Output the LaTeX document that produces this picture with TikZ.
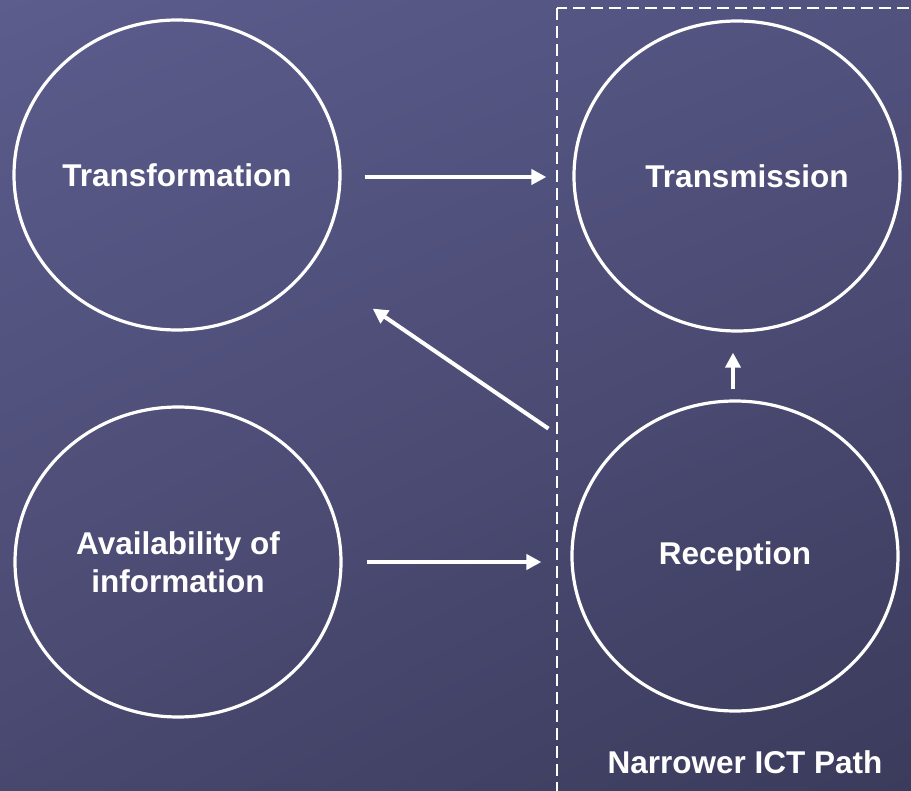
\documentclass[tikz,border=0pt]{standalone}
\usepackage{fontspec}
\setmainfont{Liberation Sans}
\usepackage{xcolor}
\usetikzlibrary{positioning, arrows.meta, shapes.geometric, shadings}
\definecolor{slideUL}{HTML}{5C5C8D}
\definecolor{slideUR}{HTML}{52527F}
\definecolor{slideLL}{HTML}{48486F}
\definecolor{slideLR}{HTML}{3B3B5C}
\newcommand{\slidefont}{\fontsize{31.5}{38}\selectfont\bfseries}
\tikzset{
    x=1pt, y=-1pt, % one unit is one pixel of the slide
    bubble/.style={ellipse, draw=white, line width=3.2pt, minimum width=326pt, minimum height=310pt, inner sep=0pt, text=white, font=\slidefont, align=center}, % the four stages
    tag/.style={text=white, font=\slidefont}, % caption of the dashed box
    dashbox/.style={draw=white, line width=2.3pt, dash pattern=on 12pt off 6pt}, % the ICT path frame
}
\tikzstyle{arrow} = [draw=white, line width=4pt, -{Triangle[length=15pt,width=15pt]}]

\begin{document}
\begin{tikzpicture}
    \clip (0,0) rectangle (911,791);
    \shade[upper left=slideUL, upper right=slideUR, lower left=slideLL, lower right=slideLR] (0,0) rectangle (911,791);

    \draw[dashbox] (557,8) rectangle (930,810);

    \node[bubble] (transform) at (177,175) {Transformation};
    \node[bubble] (transmit) at (737,176) {\hspace*{20pt}Transmission};
    \node[bubble] (receive) at (735,556) {Reception};
    \node[bubble] (avail) at (178,562) {Availability of\\information};
    \node[tag, anchor=base] (ictpath) at (745,773) {Narrower ICT Path};

    \draw[arrow, shorten <=23pt, shorten >=26pt] ([yshift=-2pt]transform.east) -- ([yshift=-2pt]transform.east -| transmit.west);
    \draw[arrow, shorten <=24pt, shorten >=29pt] (avail.east) -- (avail.east -| receive.west);
    \draw[arrow, shorten <=64pt, shorten >=75pt] (receive) -- (transform);
    \draw[arrow, shorten <=10pt, shorten >=20pt] ([xshift=-2pt]receive.north) -- ([xshift=-2pt]receive.north |- transmit.south);
\end{tikzpicture}
\end{document}
